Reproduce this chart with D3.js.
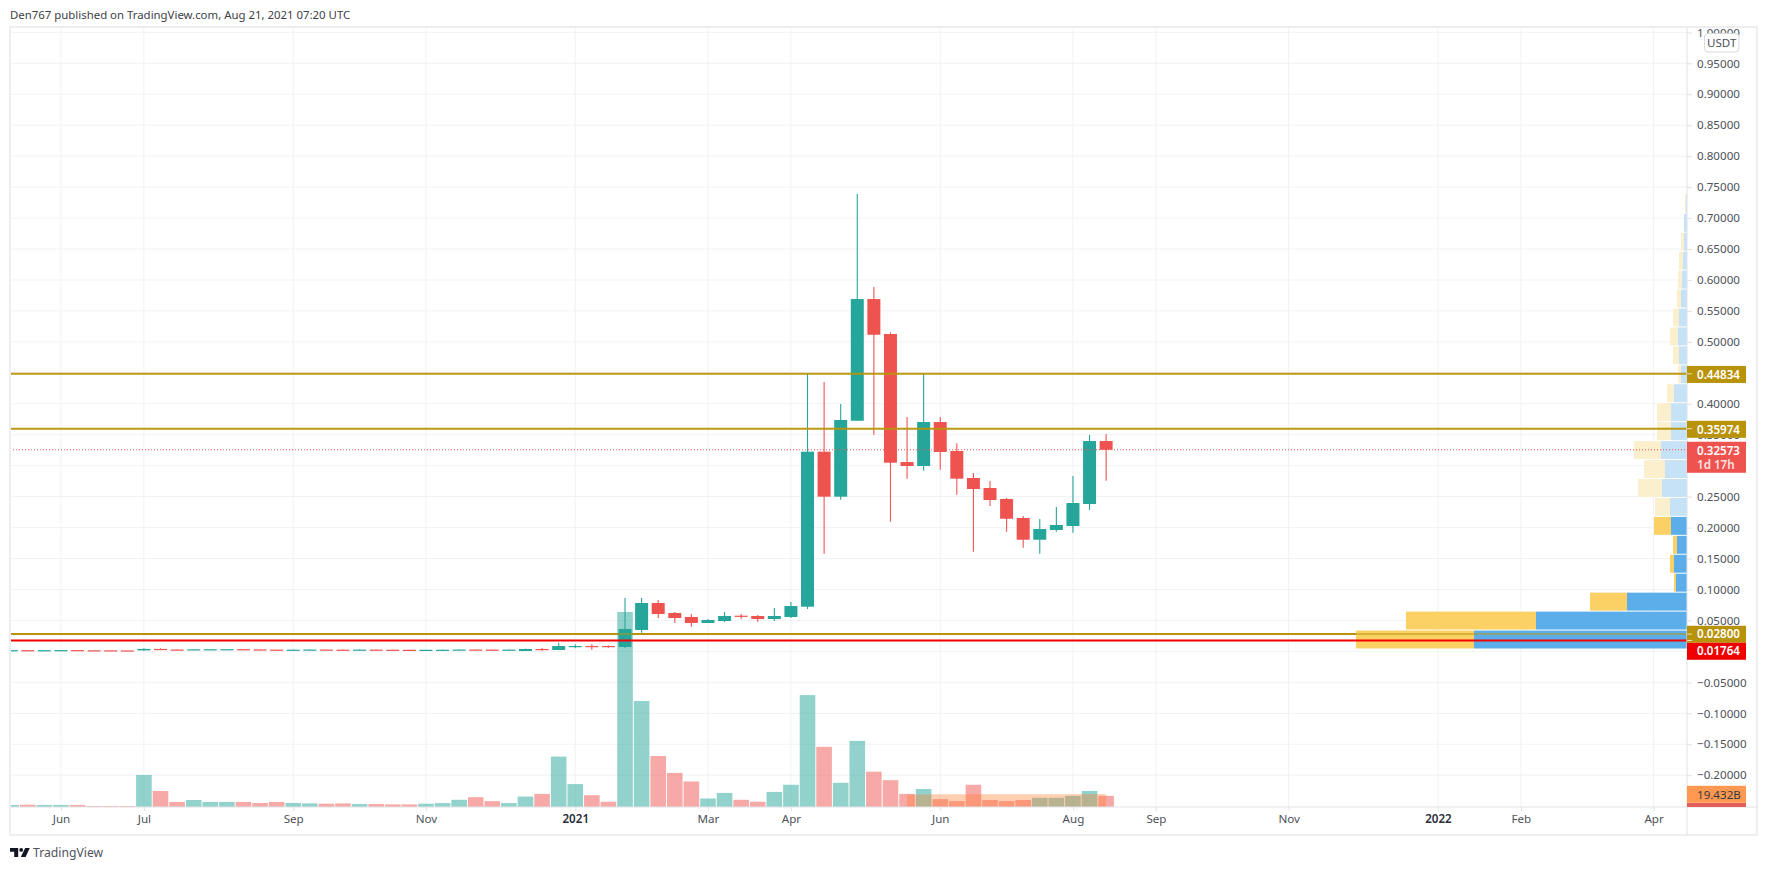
<!DOCTYPE html>
<html>
<head>
<meta charset="utf-8">
<script src="https://cdn.jsdelivr.net/npm/d3@7"></script>
<style>
  html, body { margin: 0; padding: 0; background: #fff; }
  svg { display: block; font-family: "Noto Sans", sans-serif; }
</style>
</head>
<body>
<svg id="chart"></svg>
<script>
const width = 1767;
const height = 870;

// Weekly candles, one entry per week, left to right
const opens = [.0018,.0020,.0017,.0020,.0021,.0018,.0017,.0016,.0016,.0040,.0030,.0026,.0030,.0032,.0036,.0032,.0029,.0026,
  .0028,.0030,.0028,.0026,.0029,.0027,.0026,.0024,.0026,.0027,.0030,.0029,.0024,.0006,.0039,.0023,.0071,.0087,.0087,.0071,
  .0346,.0782,.0620,.0556,.0459,.0491,.0577,.0572,.0523,.0556,.0722,.3226,.2499,.3726,.5692,.5127,.3059,.2995,.3705,.3237,
  .2801,.2639,.2462,.2155,.1804,.1961,.2025,.2381,.3398];
const highs = [.0021,.0022,.0021,.0022,.0023,.0020,.0019,.0018,.0050,.0049,.0034,.0040,.0036,.0040,.0038,.0034,.0031,.0032,
  .0034,.0032,.0030,.0031,.0031,.0028,.0027,.0028,.0030,.0033,.0034,.0031,.0030,.0045,.0055,.0141,.0115,.0115,.0095,.0863,
  .0863,.0830,.0636,.0604,.0523,.0636,.0604,.0588,.0701,.0798,.4481,.4352,.3996,.7388,.5886,.5154,.3786,.4481,.3786,.3361,
  .2882,.2752,.2478,.2187,.2139,.2332,.2833,.3495,.3512];
const lows = [.0015,.0016,.0015,.0016,.0017,.0016,.0016,.0015,.0014,.0022,.0024,.0024,.0026,.0030,.0030,.0028,.0025,.0024,
  .0026,.0026,.0024,.0024,.0025,.0024,.0022,.0022,.0024,.0025,.0027,.0022,.0020,.0005,.0012,.0020,.0050,.0025,.0060,.0055,
  .0302,.0539,.0459,.0399,.0459,.0475,.0523,.0475,.0491,.0539,.0685,.1578,.2450,.3726,.3500,.2095,.2790,.2919,.2935,.2531,
  .1610,.2349,.1933,.1675,.1578,.1933,.1917,.2284,.2757];
const closes = [.0020,.0017,.0020,.0021,.0018,.0017,.0016,.0015,.0040,.0030,.0026,.0034,.0035,.0036,.0032,.0029,.0026,.0028,
  .0030,.0028,.0026,.0029,.0027,.0026,.0024,.0026,.0027,.0030,.0029,.0024,.0029,.0039,.0023,.0087,.0087,.0071,.0071,.0362,
  .0782,.0604,.0539,.0459,.0507,.0572,.0560,.0523,.0572,.0733,.3226,.2499,.3738,.5692,.5115,.3048,.2995,.3705,.3221,.2790,
  .2623,.2445,.2143,.1804,.1977,.2042,.2397,.3398,.3257];

// Volume per week, in billions
const volumes = [3.1,3.5,3.1,3.1,3.1,1.5,1.5,1.5,49,24.5,7.7,10.7,7.7,7.7,7.7,6.1,7.7,6.1,
  5.5,5,5.5,4.5,4.5,4,4,5,6,11,15,9,6,16,20,77,35,18,8,298,
  162,78,52,39,13,21.5,11,8,23,34,171,92,37,101,54,41,20,27.5,12,9,
  34,10.7,9,10.7,14,14,17,24.5,17];

// Volume moving average, last weeks only
const volumeMaStart = 54;
const volumeMa = [18.9,19.1,19.3,19.4,19.5,19.6,19.6,19.5,19.5,19.5,19.5,19.8,19.4];

// Volume profile rows, bottom row first
const profileLow = 0.0039;
const profileStep = 0.0306;
const profileUp = [213,151,60,11,13,10,16,17,25,22,26,16,16,13,6,8,9,8,6,5,4,3,3,1];
const profileDown = [118,130,37,2,4,4,17,15,24,21,27,14,14,7,3,6,8,6,4,4,4,3,0,1];
const profileStrongRows = 7;

// Horizontal levels
const goldLevels = [0.44834, 0.35974];
const supportLevel = 0.028;
const redLevel = 0.01764;
const lastPrice = 0.32573;
const volumeLabel = "19.432B";
const countdown = "1d 17h";

// Axis ticks
const priceTicks = [1,.95,.9,.85,.8,.75,.7,.65,.6,.55,.5,.45,.4,.35,.3,.25,.2,.15,.1,.05,0,-.05,-.1,-.15,-.2];
const timeTickWeeks = [3,8,17,25,34,42,47,56,64,69,77,86,91,99];
const timeTickLabels = ["Jun","Jul","Sep","Nov","2021","Mar","Apr","Jun","Aug","Sep","Nov","2022","Feb","Apr"];

const plot = { left: 10, right: 1687, top: 27, bottom: 807, outerRight: 1757, outerBottom: 835 };
const green = "#26a69a";
const red = "#ef5350";
const gold = "#b8930a";
const gridColor = "#f0f2f5";
const axisColor = "#dfe2e6";
const textColor = "#4e5159";

const svg = d3.select("#chart")
  .attr("width", width)
  .attr("height", height)
  .attr("viewBox", `0 0 ${width} ${height}`);

const x = d3.scaleLinear().domain([0, 99]).range([11.2, 1653.6]);
const y = d3.scaleLinear().domain([0, 0.95]).range([651.4, 63.3]);
const yVolume = d3.scaleLinear().domain([0, 298]).range([plot.bottom, 612]);
const profileWidth = d3.scaleLinear().domain([0, 331]).range([0, 331]);

const weeks = d3.range(opens.length);
const isUp = i => closes[i] >= opens[i];

const defs = svg.append("defs");
defs.append("clipPath").attr("id", "plot-clip").append("rect")
  .attr("x", plot.left).attr("y", plot.top + 1)
  .attr("width", plot.right - plot.left).attr("height", plot.bottom - plot.top - 1);
// Used inside the translated price axis, so x starts at 0
defs.append("clipPath").attr("id", "price-clip").append("rect")
  .attr("x", 0).attr("y", plot.top + 1)
  .attr("width", plot.outerRight - plot.right).attr("height", plot.bottom - plot.top - 1);

// Header and logo
svg.append("text")
  .attr("x", 10).attr("y", 19)
  .attr("font-size", 11.4).attr("fill", "#3e4149")
  .text("Den767 published on TradingView.com, Aug 21, 2021 07:20 UTC");

svg.append("path")
  .attr("d", "M10 848h8.2v9h-4v-5.2h-4.2zM25.2 848h4.6l-4.2 9h-4.8z")
  .attr("fill", "#131722");
svg.append("circle").attr("cx", 21.2).attr("cy", 849.9).attr("r", 1.9).attr("fill", "#131722");
svg.append("text")
  .attr("x", 33).attr("y", 857)
  .attr("font-size", 12.2).attr("fill", "#50535e")
  .text("TradingView");

// Grid
const grid = svg.append("g").attr("clip-path", "url(#plot-clip)");
grid.selectAll("line.h").data(priceTicks).enter().append("line")
  .attr("class", "h")
  .attr("x1", plot.left).attr("x2", plot.right)
  .attr("y1", d => y(d)).attr("y2", d => y(d))
  .attr("stroke", gridColor).attr("stroke-width", 1);
grid.selectAll("line.v").data(timeTickWeeks).enter().append("line")
  .attr("class", "v")
  .attr("y1", plot.top).attr("y2", plot.bottom)
  .attr("x1", d => x(d)).attr("x2", d => x(d))
  .attr("stroke", gridColor).attr("stroke-width", 1);

const chart = svg.append("g").attr("clip-path", "url(#plot-clip)");

// The lower gold level sits under the profile, so it goes first
chart.append("line")
  .attr("x1", plot.left).attr("x2", plot.right)
  .attr("y1", y(supportLevel)).attr("y2", y(supportLevel))
  .attr("stroke", gold).attr("stroke-width", 2);

// Volume
chart.selectAll("rect.vol").data(weeks).enter().append("rect")
  .attr("class", "vol")
  .attr("x", i => x(i) - 7.8)
  .attr("width", 15.6)
  .attr("y", i => yVolume(volumes[i]))
  .attr("height", i => plot.bottom - yVolume(volumes[i]))
  .attr("fill", i => isUp(i) ? green : red)
  .attr("fill-opacity", 0.5);

const volumeArea = d3.area()
  .x((d, i) => x(volumeMaStart + i))
  .y0(plot.bottom)
  .y1(d => yVolume(d));
chart.append("path")
  .attr("d", volumeArea(volumeMa))
  .attr("fill", "#ff7a2a")
  .attr("fill-opacity", 0.36);

// Candles
const candles = chart.selectAll("g.candle").data(weeks).enter().append("g").attr("class", "candle");
candles.append("line")
  .attr("x1", i => x(i)).attr("x2", i => x(i))
  .attr("y1", i => y(highs[i])).attr("y2", i => y(lows[i]))
  .attr("stroke", i => isUp(i) ? green : red)
  .attr("stroke-width", 1.1);
candles.append("rect")
  .attr("x", i => x(i) - 6.5)
  .attr("width", 13)
  .attr("y", i => y(Math.max(opens[i], closes[i])))
  .attr("height", i => Math.max(1.2, Math.abs(y(opens[i]) - y(closes[i]))))
  .attr("fill", i => isUp(i) ? green : red);

// Volume profile, blue against the axis and yellow to its left
const rows = chart.selectAll("g.row").data(profileUp).enter().append("g").attr("class", "row");
const rowTop = (d, k) => y(profileLow + (k + 1) * profileStep) + 0.5;
const rowHeight = (d, k) => y(profileLow + k * profileStep) - y(profileLow + (k + 1) * profileStep) - 1;
rows.append("rect")
  .attr("x", (d, k) => plot.right - profileWidth(d) - profileWidth(profileDown[k]))
  .attr("width", (d, k) => profileWidth(profileDown[k]))
  .attr("y", rowTop).attr("height", rowHeight)
  .attr("fill", (d, k) => k < profileStrongRows ? "#fbd166" : "#fcefcd");
rows.append("rect")
  .attr("x", d => plot.right - profileWidth(d))
  .attr("width", d => profileWidth(d))
  .attr("y", rowTop).attr("height", rowHeight)
  .attr("fill", (d, k) => k < profileStrongRows ? "#5caeeb" : "#c6e2f6");

// Levels on top of everything in the pane
chart.append("line")
  .attr("x1", plot.left).attr("x2", plot.right)
  .attr("y1", y(lastPrice)).attr("y2", y(lastPrice))
  .attr("stroke", red).attr("stroke-width", 1).attr("stroke-dasharray", "1 2");
chart.selectAll("line.gold").data(goldLevels).enter().append("line")
  .attr("class", "gold")
  .attr("x1", plot.left).attr("x2", plot.right)
  .attr("y1", d => y(d)).attr("y2", d => y(d))
  .attr("stroke", gold).attr("stroke-width", 2).attr("stroke-opacity", 0.95);
chart.append("line")
  .attr("x1", plot.left).attr("x2", plot.right)
  .attr("y1", y(supportLevel)).attr("y2", y(supportLevel))
  .attr("stroke", gold).attr("stroke-width", 2).attr("stroke-opacity", 0.5);
chart.append("line")
  .attr("x1", plot.left).attr("x2", plot.right)
  .attr("y1", y(redLevel)).attr("y2", y(redLevel))
  .attr("stroke", "#f00000").attr("stroke-width", 2);

// Frame
svg.append("rect")
  .attr("x", plot.left).attr("y", plot.top)
  .attr("width", plot.outerRight - plot.left).attr("height", plot.outerBottom - plot.top)
  .attr("fill", "none").attr("stroke", "#eceef1").attr("stroke-width", 2);
svg.append("line")
  .attr("x1", plot.left).attr("x2", plot.outerRight)
  .attr("y1", plot.bottom).attr("y2", plot.bottom)
  .attr("stroke", axisColor);
svg.append("line")
  .attr("x1", plot.right).attr("x2", plot.right)
  .attr("y1", plot.top).attr("y2", plot.outerBottom)
  .attr("stroke", axisColor);

// Price axis
const priceAxis = svg.append("g")
  .attr("transform", `translate(${plot.right},0)`)
  .attr("clip-path", "url(#price-clip)")
  .call(d3.axisRight(y).tickValues(priceTicks).tickFormat(d3.format(".5f")).tickSize(5).tickPadding(5));
priceAxis.select(".domain").remove();
priceAxis.selectAll("line").attr("stroke", axisColor);
priceAxis.selectAll("text")
  .attr("font-family", "'Noto Sans', sans-serif")
  .attr("font-size", 11.6)
  .attr("fill", textColor);

// Time axis
const timeAxis = svg.append("g")
  .attr("transform", `translate(0,${plot.bottom})`)
  .call(d3.axisBottom(x).tickValues(timeTickWeeks)
    .tickFormat((d, i) => timeTickLabels[i]).tickSize(4).tickPadding(4));
timeAxis.select(".domain").remove();
timeAxis.selectAll("line").attr("stroke", axisColor);
timeAxis.selectAll("text")
  .attr("font-family", "'Noto Sans', sans-serif")
  .attr("font-size", 11.6)
  .attr("fill", d => (d === 34 || d === 86) ? "#2a2e39" : textColor)
  .attr("font-weight", d => (d === 34 || d === 86) ? 600 : 400);

// Price labels on the axis
function axisLabel(level, fill, offset) {
  const cy = y(level) + offset;
  svg.append("rect")
    .attr("x", plot.right).attr("width", 59)
    .attr("y", cy - 8.5).attr("height", 17)
    .attr("fill", fill);
  svg.append("line")
    .attr("x1", plot.right).attr("x2", plot.right + 5)
    .attr("y1", y(level)).attr("y2", y(level))
    .attr("stroke", "#fff").attr("stroke-opacity", 0.7);
  svg.append("text")
    .attr("x", plot.right + 10).attr("y", cy + 4.2)
    .attr("font-size", 11.6).attr("font-weight", 600).attr("fill", "#fff")
    .text(d3.format(".5f")(level));
}

// Last price box with the countdown under the value
svg.append("rect")
  .attr("x", plot.right).attr("width", 59)
  .attr("y", y(lastPrice) - 8).attr("height", 31)
  .attr("fill", red);
svg.append("text")
  .attr("x", plot.right + 10).attr("y", y(lastPrice) + 4.8)
  .attr("font-size", 11.6).attr("font-weight", 600).attr("fill", "#fff")
  .text(d3.format(".5f")(lastPrice));
svg.append("text")
  .attr("x", plot.right + 10).attr("y", y(lastPrice) + 19.2)
  .attr("font-size", 11.6).attr("font-weight", 600).attr("fill", "#fde3e2")
  .text(countdown);

goldLevels.forEach(d => axisLabel(d, gold, 0.6));
axisLabel(supportLevel, gold, 0.2);
axisLabel(redLevel, "#f00000", 10.8);

// Volume labels at the foot of the axis
svg.append("rect")
  .attr("x", plot.right).attr("width", 59)
  .attr("y", 803).attr("height", 4)
  .attr("fill", "#e35d5a");
svg.append("rect")
  .attr("x", plot.right).attr("width", 59)
  .attr("y", yVolume(volumeMa[volumeMa.length - 1]) - 8.5).attr("height", 17)
  .attr("fill", "#ff9850");
svg.append("text")
  .attr("x", plot.right + 10).attr("y", yVolume(volumeMa[volumeMa.length - 1]) + 4.2)
  .attr("font-size", 11.6).attr("fill", "#333842")
  .text(volumeLabel);

// Currency tag
svg.append("rect")
  .attr("x", 1704.5).attr("y", 33.5)
  .attr("width", 34.5).attr("height", 18.5)
  .attr("rx", 3.5)
  .attr("fill", "#fff").attr("stroke", "#d6d9df");
svg.append("text")
  .attr("x", 1721.7).attr("y", 47)
  .attr("text-anchor", "middle")
  .attr("font-size", 11.6).attr("fill", textColor)
  .text("USDT");
</script>
</body>
</html>
